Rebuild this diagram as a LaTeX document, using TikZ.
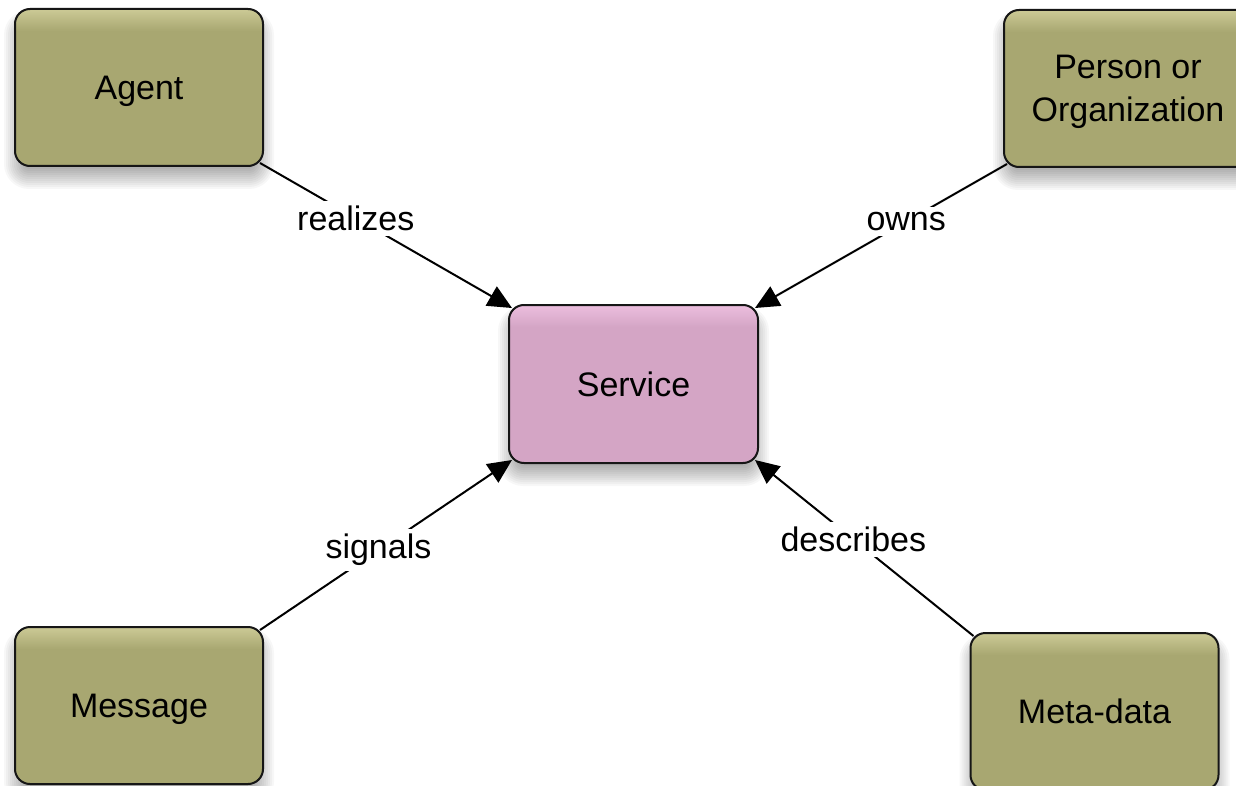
\documentclass[tikz,border=0pt]{standalone}
\usepackage{fontspec}
\setmainfont{Liberation Sans}
\usetikzlibrary{arrows.meta,backgrounds}

\definecolor{olivebase}{RGB}{168,167,113}
\definecolor{olivetop}{RGB}{204,202,150}
\definecolor{pinkbase}{RGB}{212,165,197}
\definecolor{pinktop}{RGB}{236,190,222}
\definecolor{edgecol}{RGB}{22,22,22}

% box fills: flat body with a light band along the top edge
\pgfdeclareverticalshading{oliveshade}{100bp}{color(0bp)=(olivebase); color(25bp)=(olivebase); color(68bp)=(olivebase); color(75bp)=(olivetop); color(100bp)=(olivetop)}
\pgfdeclareverticalshading{pinkshade}{100bp}{color(0bp)=(pinkbase); color(25bp)=(pinkbase); color(68bp)=(pinkbase); color(75bp)=(pinktop); color(100bp)=(pinktop)}

\tikzset{
  box/.style={rectangle, rounded corners=7.5pt, draw=edgecol, line width=1pt,
    minimum width=124pt, minimum height=78.5pt, align=center, text=black,
    text depth=0pt, font=\fontsize{17}{21.7}\selectfont},
  olivebox/.style={box, shade, shading=oliveshade},
  pinkbox/.style={box, shade, shading=pinkshade},
  shadowlayer/.style={fill=black, opacity=.03},
  conn/.style={draw=black, line width=1pt, -{Triangle[length=12pt,width=11pt]}},
  lbl/.style={fill=white, inner sep=2.5pt, text=black, font=\fontsize{17}{20}\selectfont}
}

\begin{document}
\begin{tikzpicture}[x=0.5pt,y=-0.5pt]
\useasboundingbox (0,0) rectangle (1236,786);
\clip (0,0) rectangle (1236,786);

\node[olivebox] (agent)   at (139,87.5)    {Agent};
\node[olivebox] (person)  at (1128,88.5)   {Person or\\Organization};
\node[pinkbox, minimum width=124.5pt, minimum height=79pt] (service) at (633.5,384) {Service};
\node[olivebox] (message) at (139,705.5)   {Message};
\node[olivebox] (meta)    at (1094.5,711.5) {Meta-data};

% soft drop shadows: stacked translucent copies of each box, shifted down
\begin{scope}[on background layer]
  \fill[white] (0,0) rectangle (1236,786);
  \foreach \bx in {agent,person,service,message,meta}{
    \foreach \ex in {-10,-8,-6,-4,-2,0,2,4,6,8,10}{
      \pgfmathsetmacro{\rad}{max(0.5,7.5+\ex/2)}
      \fill[shadowlayer, rounded corners=\rad pt]
        ([shift={(-\ex,12-\ex)}]\bx.north west) rectangle ([shift={(\ex,12+\ex)}]\bx.south east);
    }
  }
\end{scope}

\draw[conn] ([shift={(-4,-4)}]agent.south east)
  -- node[lbl, pos=0.38] (lrealizes) {realizes} ([shift={(4,4)}]service.north west);
\draw[conn] ([shift={(4,-4)}]person.south west)
  -- node[lbl, pos=0.40] (lowns) {owns} ([shift={(-4,4)}]service.north east);
\draw[conn] ([shift={(-4,4)}]message.north east)
  -- node[lbl, pos=0.47] (lsignals) {signals} ([shift={(4,-4)}]service.south west);
\draw[conn] ([shift={(4,4)}]meta.north west)
  -- node[lbl, pos=0.55] (ldescribes) {describes} ([shift={(-4,-4)}]service.south east);
\end{tikzpicture}
\end{document}
